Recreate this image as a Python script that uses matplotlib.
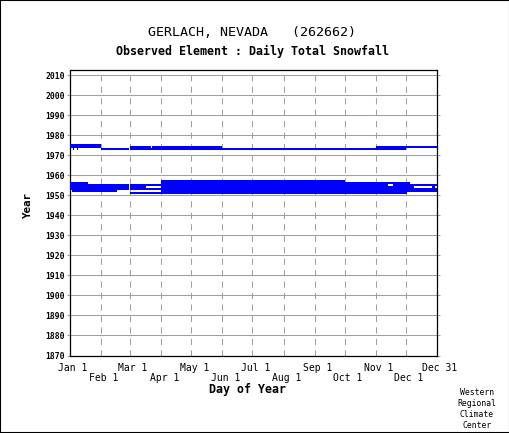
import datetime as dt

import matplotlib
matplotlib.use("Agg")
import matplotlib.pyplot as plt
import matplotlib.transforms as mtransforms
from matplotlib.patches import Rectangle

# Station title
station = "GERLACH, NEVADA   (262662)"
element = "Observed Element : Daily Total Snowfall"

# Periods with observations, per year, as (first day, last day)
obs_1951 = [("03-01", "12-01")]
obs_1952 = [("01-03", "02-16"), ("04-01", "12-31")]
obs_1953 = [("01-01", "02-28"), ("03-01", "12-31")]
obs_1954 = [("01-01", "02-28"), ("03-01", "03-16"), ("04-01", "12-08"),
            ("12-27", "12-29")]
obs_1955 = [("01-01", "02-28"), ("03-01", "11-12"), ("11-18", "12-31")]
obs_1956 = [("01-01", "01-18"), ("04-01", "12-04")]
obs_1957 = [("04-01", "09-30")]
obs_1973 = [("01-04", "01-04"), ("01-08", "01-08"), ("02-01", "02-28"),
            ("03-01", "11-30")]
obs_1974 = [("01-01", "01-31"), ("03-01", "03-21"), ("03-23", "05-31"),
            ("11-01", "12-31")]
obs_1975 = [("01-01", "01-31")]

years = [1951, 1952, 1953, 1954, 1955, 1956, 1957, 1973, 1974, 1975]
periods = [obs_1951, obs_1952, obs_1953, obs_1954, obs_1955, obs_1956,
           obs_1957, obs_1973, obs_1974, obs_1975]

month_ticks_top = ["01-01", "03-01", "05-01", "07-01", "09-01", "11-01"]
month_labels_top = ["Jan 1", "Mar 1", "May 1", "Jul 1", "Sep 1", "Nov 1"]
month_ticks_bot = ["02-01", "04-01", "06-01", "08-01", "10-01", "12-01"]
month_labels_bot = ["Feb 1", "Apr 1", "Jun 1", "Aug 1", "Oct 1", "Dec 1"]

year_ticks = list(range(1870, 2011, 10))

GRAY = "#a0a0a0"
BLUE = "#0000ff"
FONT = "DejaVu Sans Mono"


def day_index(mmdd):
    # day of a leap year, Jan 1 = 0
    m, d = map(int, mmdd.split("-"))
    return (dt.date(2000, m, d) - dt.date(2000, 1, 1)).days


W, H = 510, 433
fig = plt.figure(figsize=(W / 100, H / 100), dpi=100)
ax = fig.add_axes([70 / W, (H - 355.5) / H, 367 / W, 285.5 / H])

for year, obs in zip(years, periods):
    spans = [(day_index(a), day_index(b) + 1 - day_index(a)) for a, b in obs]
    ax.broken_barh(spans, (year - 0.5, 1.0), facecolors=BLUE,
                   edgecolor="none", antialiased=False, zorder=3)

ax.set_xlim(0, 366)
ax.set_ylim(1870, 2012.5)

top_pos = [day_index(t) for t in month_ticks_top] + [366]
ax.set_xticks(top_pos, month_labels_top + ["Dec 31"])
ax.set_xticks([day_index(t) for t in month_ticks_bot], month_labels_bot,
              minor=True)
ax.tick_params(axis="x", which="both", length=0, labelsize=7)
ax.tick_params(axis="x", which="major", pad=5.4)
ax.tick_params(axis="x", which="minor", pad=12.6)
ax.xaxis.grid(True, which="both", color=GRAY, lw=0.75,
              linestyle=(0, (6, 5)), zorder=1)

ax.set_yticks(year_ticks)
ax.tick_params(axis="y", direction="out", length=2.5, width=0.75,
               color=GRAY, right=True, labelsize=5.8, pad=1.2)
ax.yaxis.grid(True, color=GRAY, lw=0.75, zorder=1)
ax.set_axisbelow(True)

shift = mtransforms.ScaledTranslation(3 / 100, 0, fig.dpi_scale_trans)
for lab in ax.get_xticklabels(which="both"):
    lab.set_fontfamily(FONT)
    lab.set_transform(lab.get_transform() + shift)
for lab in ax.get_yticklabels():
    lab.set_fontfamily(FONT)
    lab.set_fontweight("bold")

for sp in ax.spines.values():
    sp.set_color("black")
    sp.set_linewidth(0.9)

fig.text(252.5 / W, 1 - 33 / H, station, ha="center", va="center",
         fontsize=9.6, family=FONT)
fig.text(253 / W, 1 - 51.5 / H, element, ha="center", va="center",
         fontsize=8.4, family=FONT, weight="bold")
fig.text(248 / W, 1 - 390 / H, "Day of Year", ha="center", va="center",
         fontsize=8.4, family=FONT, weight="bold")
fig.text(27.5 / W, 1 - 205 / H, "Year", ha="center", va="center",
         fontsize=7.8, family=FONT, weight="bold", rotation=90)
fig.text(477 / W, 1 - 409 / H, "Western\nRegional\nClimate\nCenter",
         ha="center", va="center", fontsize=5.9, family=FONT,
         linespacing=1.25)

fig.patches.append(Rectangle((0, 0), 1, 1, transform=fig.transFigure,
                             fill=False, edgecolor="black", lw=1.5))

fig.savefig("out.png", dpi=100)
